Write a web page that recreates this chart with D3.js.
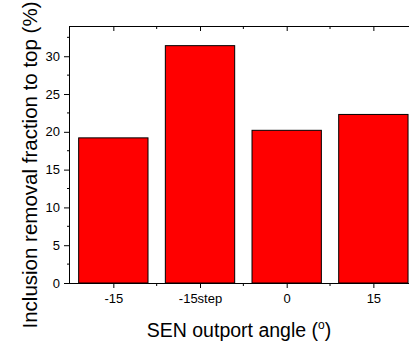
<!DOCTYPE html>
<html>
<head>
<meta charset="utf-8">
<script src="https://cdn.jsdelivr.net/npm/d3@7"></script>
<style>
  body { margin: 0; background: #fff; }
  text { font-family: "Liberation Sans", Arial, sans-serif; fill: #000; }
  .domain { stroke: #000; }
</style>
</head>
<body>
<div id="chart"></div>
<script>
const WIDTH = 409;
const HEIGHT = 345;

// data
const categories = ["-15", "-15step", "0", "15"];
const values = [19.2, 31.4, 20.2, 22.3];
const majorY = [0, 5, 10, 15, 20, 25, 30];
const minorY = [2.5, 7.5, 12.5, 17.5, 22.5, 27.5, 32.5];

const margin = { left: 70, top: 26, bottom: 62 };
const plotRight = 416.7;   // frame runs off the right edge of the picture

const svg = d3.select("#chart").append("svg")
  .attr("width", WIDTH)
  .attr("height", HEIGHT);

const x = d3.scaleLinear()
  .domain([0.5, categories.length + 0.5])
  .range([margin.left, plotRight]);

const y = d3.scaleLinear()
  .domain([0, 34])
  .range([HEIGHT - margin.bottom, margin.top]);

const catPos = categories.map((d, i) => i + 1);
const midPos = d3.range(1.5, categories.length + 0.5, 1);
const barW = 0.8;

// bars
svg.append("g").selectAll("rect")
  .data(values)
  .join("rect")
  .attr("x", (d, i) => x(i + 1 - barW / 2))
  .attr("width", (d, i) => x(i + 1 + barW / 2) - x(i + 1 - barW / 2))
  .attr("y", d => y(d))
  .attr("height", d => y(0) - y(d))
  .style("fill", "#ff0000")
  .style("stroke", "#000")
  .style("stroke-width", 1);

// bottom axis
const xb = svg.append("g")
  .attr("transform", `translate(0,${y(0)})`)
  .call(d3.axisBottom(x).tickValues(catPos).tickSize(5).tickPadding(6)
    .tickFormat((d, i) => categories[i]))
  .call(g => g.selectAll("text").style("font-size", "13px"))
  .call(g => g.select(".domain").attr("d", `M${margin.left},0.5H${plotRight}`));
xb.selectAll(".minor").data(midPos).join("line")
  .attr("class", "minor").attr("stroke", "#000")
  .attr("x1", d => x(d)).attr("x2", d => x(d)).attr("y1", 0).attr("y2", 3);

// top axis (ticks inward)
const xt = svg.append("g")
  .attr("transform", `translate(0,${y(34)})`)
  .call(d3.axisBottom(x).tickValues(catPos).tickSize(5).tickFormat(""))
  .call(g => g.select(".domain").attr("d", `M${margin.left},0.5H${plotRight}`));
xt.selectAll(".minor").data(midPos).join("line")
  .attr("class", "minor").attr("stroke", "#000")
  .attr("x1", d => x(d)).attr("x2", d => x(d)).attr("y1", 0).attr("y2", 3);

// left axis
const yl = svg.append("g")
  .attr("transform", `translate(${margin.left},0)`)
  .call(d3.axisLeft(y).tickValues(majorY).tickSize(6).tickPadding(4))
  .call(g => g.selectAll("text").style("font-size", "13px"))
  .call(g => g.select(".domain").attr("d", `M-0.5,${y(0)}V${y(34)}`));
yl.selectAll(".minor").data(minorY).join("line")
  .attr("class", "minor").attr("stroke", "#000")
  .attr("x1", -3).attr("x2", 0).attr("y1", d => y(d)).attr("y2", d => y(d));

// axis titles
const xTitle = svg.append("text")
  .attr("x", 239)
  .attr("y", 337)
  .attr("text-anchor", "middle")
  .style("font-size", "19.5px");
xTitle.append("tspan").text("SEN outport angle (");
xTitle.append("tspan").attr("dy", -8).style("font-size", "12px").text("o");
xTitle.append("tspan").attr("dy", 8).text(")");

svg.append("text")
  .attr("transform", `translate(36.5,165) rotate(-90)`)
  .attr("text-anchor", "middle")
  .style("font-size", "20.5px")
  .text("Inclusion removal fraction to top (%)");
</script>
</body>
</html>
